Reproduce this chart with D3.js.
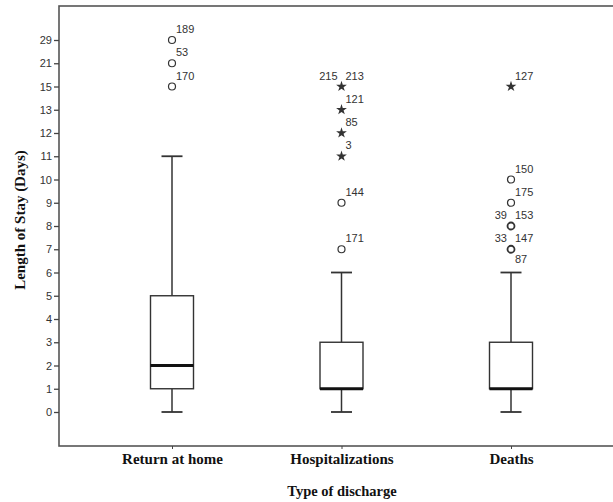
<!DOCTYPE html>
<html>
<head>
<meta charset="utf-8">
<script src="https://cdn.jsdelivr.net/npm/d3@7"></script>
<style>
  body { margin: 0; background: #fff; }
  svg { display: block; }
</style>
</head>
<body>
<div id="chart"></div>
<script>
// dados
const categories = ["Return at home", "Hospitalizations", "Deaths"];
const yLevels = ["0","1","2","3","4","5","6","7","8","9","10","11","12","13","15","21","29"];

const whiskerLow  = [0, 0, 0];
const q1          = [1, 1, 1];
const medians     = [2, 1, 1];
const q3          = [5, 3, 3];
const whiskerHigh = [11, 6, 6];

// outliers: [categoria, valor, ids dos casos]
const mildOutliers = [
  ["Return at home", 29, [189]],
  ["Return at home", 21, [53]],
  ["Return at home", 15, [170]],
  ["Hospitalizations", 9, [144]],
  ["Hospitalizations", 7, [171]],
  ["Deaths", 10, [150]],
  ["Deaths", 9, [175]],
  ["Deaths", 8, [39, 153]],
  ["Deaths", 7, [33, 147, 87]]
];
const extremeOutliers = [
  ["Hospitalizations", 15, [215, 213]],
  ["Hospitalizations", 13, [121]],
  ["Hospitalizations", 12, [85]],
  ["Hospitalizations", 11, [3]],
  ["Deaths", 15, [127]]
];

const width = 613, height = 502;
const frame = { left: 59, top: 6, right: 640, bottom: 446 };

const svg = d3.select("#chart").append("svg")
    .attr("width", width)
    .attr("height", height);

const x = d3.scalePoint().domain(categories).range([172, 511]);
const y = d3.scalePoint().domain(yLevels).range([412, 40]);
const yv = v => y(String(v));

// moldura
svg.append("rect")
    .attr("x", frame.left).attr("y", frame.top)
    .attr("width", frame.right - frame.left)
    .attr("height", frame.bottom - frame.top)
    .attr("fill", "none")
    .attr("stroke", "#555")
    .attr("stroke-width", 1.6);

// eixo Y
const yAxis = svg.append("g")
    .attr("transform", `translate(${frame.left},0)`)
    .call(d3.axisLeft(y).tickSize(5).tickPadding(2));
yAxis.select(".domain").remove();
yAxis.selectAll("line").attr("stroke", "#444").attr("stroke-width", 1.3);
yAxis.selectAll("text")
    .attr("font-family", "Liberation Sans, Arial, sans-serif")
    .attr("font-size", 11)
    .attr("fill", "#333");

// eixo X
const xAxis = svg.append("g")
    .attr("transform", `translate(0,${frame.bottom})`)
    .call(d3.axisBottom(x).tickSize(3).tickPadding(4));
xAxis.select(".domain").remove();
xAxis.selectAll("line").attr("stroke", "#444");
xAxis.selectAll("text")
    .attr("font-family", "Liberation Serif, Times New Roman, serif")
    .attr("font-weight", "bold")
    .attr("font-size", 15)
    .attr("fill", "#111");

// títulos
svg.append("text")
    .attr("x", 342).attr("y", 496)
    .attr("text-anchor", "middle")
    .attr("font-family", "Liberation Serif, Times New Roman, serif")
    .attr("font-weight", "bold")
    .attr("font-size", 14.5)
    .attr("fill", "#111")
    .text("Type of discharge");

svg.append("text")
    .attr("transform", "translate(25,220) rotate(-90)")
    .attr("text-anchor", "middle")
    .attr("font-family", "Liberation Serif, Times New Roman, serif")
    .attr("font-weight", "bold")
    .attr("font-size", 15)
    .attr("fill", "#111")
    .text("Length of Stay (Days)");

// boxplots
const boxHalf = 21.5, capHalf = 10.5;
const boxes = svg.append("g").attr("stroke", "#333").attr("fill", "none");

categories.forEach((c, i) => {
    const cx = x(c);
    boxes.append("line")
        .attr("x1", cx).attr("x2", cx)
        .attr("y1", yv(whiskerLow[i])).attr("y2", yv(q1[i]))
        .attr("stroke-width", 1.5);
    boxes.append("line")
        .attr("x1", cx).attr("x2", cx)
        .attr("y1", yv(q3[i])).attr("y2", yv(whiskerHigh[i]))
        .attr("stroke-width", 1.5);
    [whiskerLow[i], whiskerHigh[i]].forEach(v => {
        boxes.append("line")
            .attr("x1", cx - capHalf).attr("x2", cx + capHalf)
            .attr("y1", yv(v)).attr("y2", yv(v))
            .attr("stroke-width", 1.8);
    });
    boxes.append("rect")
        .attr("x", cx - boxHalf).attr("width", boxHalf * 2)
        .attr("y", yv(q3[i])).attr("height", yv(q1[i]) - yv(q3[i]))
        .attr("fill", "#fff")
        .attr("stroke-width", 1.4);
    boxes.append("line")
        .attr("x1", cx - boxHalf).attr("x2", cx + boxHalf)
        .attr("y1", yv(medians[i])).attr("y2", yv(medians[i]))
        .attr("stroke", "#111")
        .attr("stroke-width", 2.8);
});

// outliers e rótulos
const labelFont = "Liberation Sans, Arial, sans-serif";
function drawLabels(g, cx, cy, ids) {
    ids.forEach((id, k) => {
        const t = g.append("text")
            .attr("font-family", labelFont)
            .attr("font-size", 11)
            .attr("fill", "#333")
            .text(id);
        if (ids.length > 1 && k === 0) {
            t.attr("x", cx - 4).attr("y", cy - 7).attr("text-anchor", "end");
        } else if (k === 2) {
            t.attr("x", cx + 4).attr("y", cy + 14);
        } else {
            t.attr("x", cx + 4).attr("y", cy - 7);
        }
    });
}

const outG = svg.append("g");
mildOutliers.forEach(([c, v, ids]) => {
    const cx = x(c), cy = yv(v);
    outG.append("circle")
        .attr("cx", cx).attr("cy", cy).attr("r", 3.5)
        .attr("fill", "none")
        .attr("stroke", "#333")
        .attr("stroke-width", ids.length > 1 ? 1.8 : 1.2);
    drawLabels(outG, cx, cy, ids);
});
extremeOutliers.forEach(([c, v, ids]) => {
    const cx = x(c), cy = yv(v);
    outG.append("path")
        .attr("transform", `translate(${cx},${cy})`)
        .attr("d", d3.symbol(d3.symbolStar, 36)())
        .attr("fill", "#333");
    drawLabels(outG, cx, cy, ids);
});
</script>
</body>
</html>
